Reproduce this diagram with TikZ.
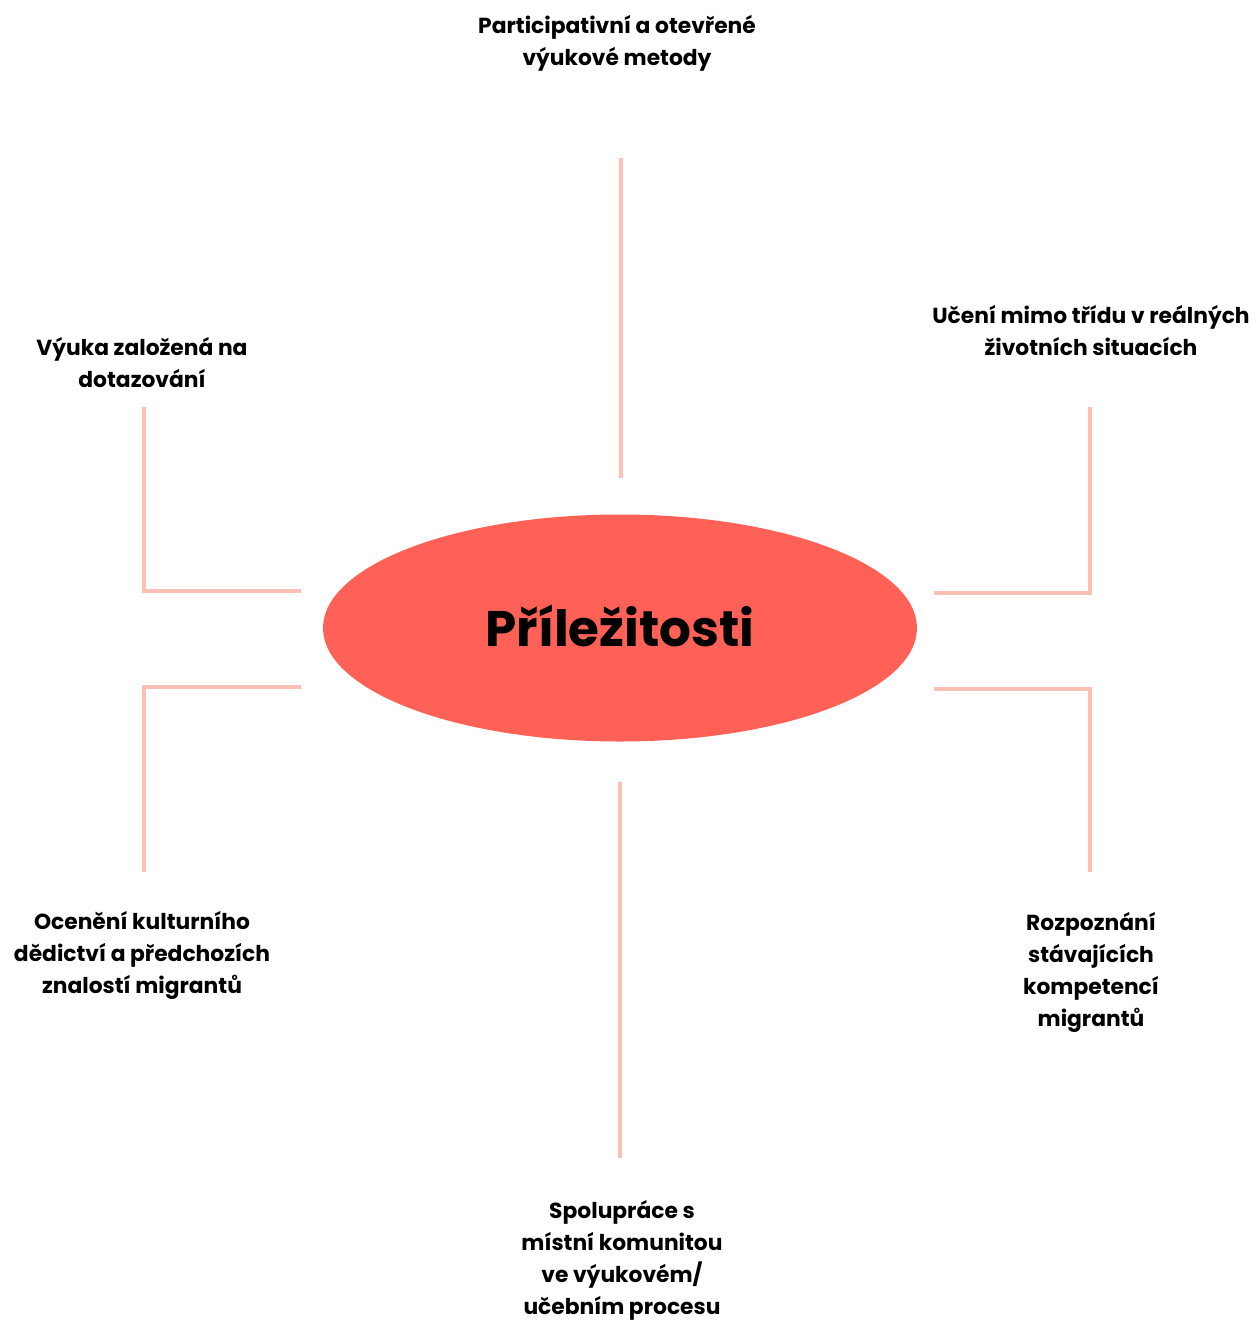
\documentclass[tikz,border=0pt]{standalone}
\usepackage{fontspec}
\setmainfont{Poppins}
\usepackage{tikz}
\usetikzlibrary{positioning,shapes.geometric}
\definecolor{coral}{HTML}{FF6156}
\definecolor{blush}{HTML}{FFBFB2}

\begin{document}
\begin{tikzpicture}[x=1pt, y=-1pt,
  hub/.style={ellipse, fill=coral, minimum width=594pt, minimum height=227pt, inner sep=0pt,
              font=\bfseries\fontsize{50}{60}\selectfont},
  lbl/.style={align=center, inner sep=0pt, font=\bfseries\fontsize{21.8}{32}\selectfont},
  spoke/.style={draw=blush, line width=3.5pt}
]
\useasboundingbox (0,0) rectangle (1258,1322);
\node[hub] (hub) at (620,628) {\raisebox{4pt}{Příležitosti}};
% labels
\node[lbl] (top) at (617,43) {Participativní a otevřené\\výukové metody};
\node[lbl] (nw) at (142,363) {Výuka založená na\\dotazování};
\node[lbl] (ne) at (1091,331) {Učení mimo třídu v reálných\\životních situacích};
\node[lbl] (sw) at (142,955) {Ocenění kulturního\\dědictví a předchozích\\znalostí migrantů};
\node[lbl] (se) at (1091,972) {Rozpoznání\\stávajících\\kompetencí\\migrantů};
\node[lbl] (bot) at (622,1260) {Spolupráce s\\místní komunitou\\ve výukovém/\\učebním procesu};
% spoke ends
\coordinate (t1) at (621,158);  \coordinate (t2) at (621,478);
\coordinate (b1) at (620,782);  \coordinate (b2) at (620,1158);
\coordinate (nw1) at (144,407); \coordinate (nw2) at (144,591); \coordinate (nw3) at (301,591);
\coordinate (sw1) at (301,687); \coordinate (sw2) at (144,687); \coordinate (sw3) at (144,872);
\coordinate (ne1) at (934,593); \coordinate (ne2) at (1090,593); \coordinate (ne3) at (1090,407);
\coordinate (se1) at (934,689); \coordinate (se2) at (1090,689); \coordinate (se3) at (1090,872);
\draw[spoke] (t1) -- (t2);
\draw[spoke] (b1) -- (b2);
\draw[spoke] (nw1) -- (nw2) -- (nw3);
\draw[spoke] (sw1) -- (sw2) -- (sw3);
\draw[spoke] (ne1) -- (ne2) -- (ne3);
\draw[spoke] (se1) -- (se2) -- (se3);
\end{tikzpicture}
\end{document}
